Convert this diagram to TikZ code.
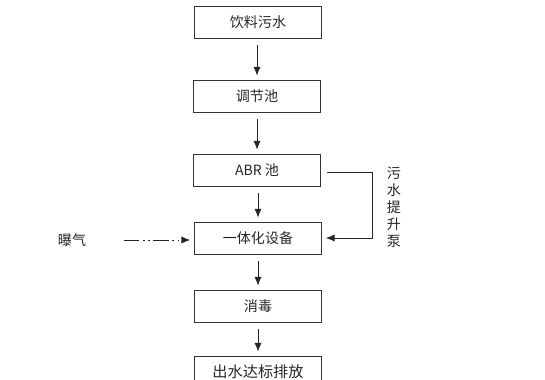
\documentclass[tikz,border=0pt]{standalone}
\usepackage{fontspec}
\newfontfamily\cjk{Noto Sans CJK SC}
\usetikzlibrary{arrows.meta}
\begin{document}
\begin{tikzpicture}[x=0.025cm, y=-0.025cm, every node/.style={font=\cjk\fontsize{10}{12}\selectfont, text=black!85},
  box/.style={draw=black!80,semithick,minimum width=3.17cm,minimum height=0.80cm,inner sep=0pt},
  flow/.style={-{Latex[length=2.2mm,width=1.8mm]},semithick,black!85,shorten <=1.6mm,shorten >=1mm}]
\clip (0,0) rectangle (545,380);
\useasboundingbox (0,0) rectangle (545,380);
% main line
\node[box] (src) at (258,22) {饮料污水};
\node[box] (tjc) at (257,96) {调节池};
\node[box] (abr) at (257,170) {ABR 池};
\node[box] (ytbh) at (258,238) {一体化设备};
\node[box] (xd) at (258,306) {消毒};
\node[box,font=\cjk\fontsize{10.8}{12}\selectfont] (pf) at (258,372) {出水达标排放};
\foreach \a/\b in {src/tjc,tjc/abr,abr/ytbh,ytbh/xd,xd/pf} {\draw[flow] (\b.north |- \a.south) -- (\b.north);}
% pump return
\coordinate (ra) at (372,172);
\draw[flow] (abr.east |- ra) -- (ra) |- (ytbh.east);
\node[align=center,inner sep=0pt] (pump) at (394,207) {污\\水\\提\\升\\泵};
% aeration
\node (bq) at (72,240) {曝气};
\coordinate (bqs) at (124,240);
\draw[flow,shorten <=0pt,dash pattern=on 11pt off 2.5pt on 1.2pt off 2.5pt on 1.2pt off 2.5pt] (bqs) -- (ytbh.west |- bqs);
\end{tikzpicture}
\end{document}
